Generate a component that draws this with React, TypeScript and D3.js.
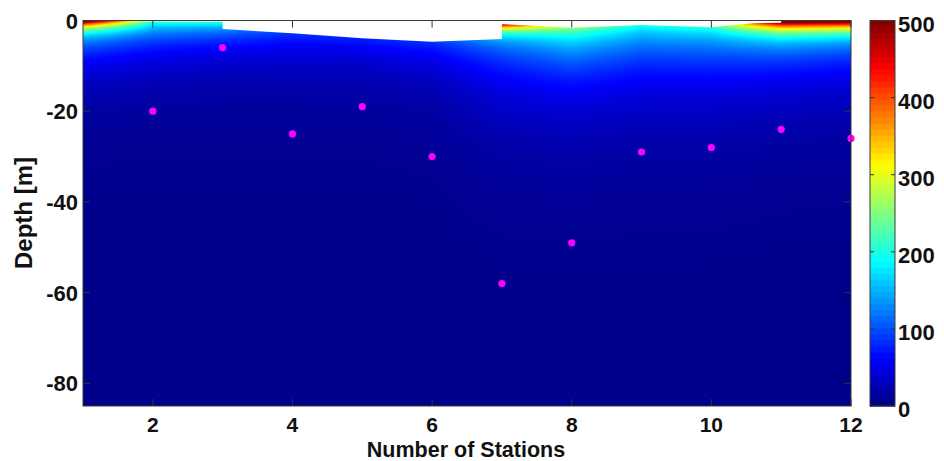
import React, { useMemo } from "react";
import * as d3 from "d3";

// ---- data ----
const stations = [1, 2, 3, 4, 5, 6, 7, 8, 9, 10, 11, 12];
// thin surface film: concentration and e-folding depth [m]
const filmConc = [350, 30, 60, 0, 0, 0, 560, 110, 30, 70, 360, 350];
const filmDecay = [1.3, 1.2, 1.2, 1.2, 1.2, 1.2, 1.3, 1.3, 1.2, 1.3, 1.6, 1.6];
// upper layer
const upperConc = [200, 150, 130, 90, 100, 120, 120, 190, 135, 150, 190, 180];
const upperDecay = [5.5, 5, 4.5, 5, 5, 5.5, 8.5, 8.5, 8.5, 8, 7, 6.5];
// mid layer
const midConc = [40, 40, 40, 40, 40, 45, 70, 70, 65, 65, 60, 55];
const midDecay = [12, 12, 12, 12, 12, 13, 15, 15, 15, 15, 14, 14];
const deepConc = 5;

// water surface line (top of the sampled section)
const surfaceLineX = [1, 2, 3, 3, 4, 5, 6, 7, 7, 8, 9, 10, 10.6, 11, 11, 12];
const surfaceLineDepth = [0, 0.2, 0.3, 1.9, 2.8, 3.9, 4.7, 4.1, 0.8, 1.6, 1.0, 1.5, 0.6, 0.5, 0, 0];

// sampling points (magenta dots)
const sampleStations = [2, 3, 4, 5, 6, 7, 8, 9, 10, 11, 12];
const sampleDepths = [-20, -6, -25, -19, -30, -58, -49, -29, -28, -24, -26];

const xTicks = [2, 4, 6, 8, 10, 12];
const yTicks = [0, -20, -40, -60, -80];
const cbTicks = [0, 100, 200, 300, 400, 500];

// ---- layout ----
const W = 944;
const H = 461;
const L = 83;
const R = 851;
const T = 20.5;
const B = 406;
const CBL = 870;
const CBR = 895;
const FONT = "'Liberation Sans', Arial, Helvetica, sans-serif";

function jet(t: number): [number, number, number] {
  const c = (v: number) => Math.max(0, Math.min(1, v));
  return [c(1.5 - Math.abs(4 * t - 3)), c(1.5 - Math.abs(4 * t - 2)), c(1.5 - Math.abs(4 * t - 1))];
}
function jetCss(t: number) {
  const [r, g, b] = jet(t);
  return `rgb(${Math.round(r * 255)},${Math.round(g * 255)},${Math.round(b * 255)})`;
}

function profile(i: number, d: number) {
  return (
    deepConc +
    filmConc[i] * Math.exp(-d / filmDecay[i]) +
    upperConc[i] * Math.exp(-d / upperDecay[i]) +
    midConc[i] * Math.exp(-d / midDecay[i])
  );
}

export default function App() {
  const x = d3.scaleLinear().domain([1, 12]).range([L, R]);
  const y = d3.scaleLinear().domain([0, -85]).range([T, B]);
  const c = d3.scaleLinear().domain([0, 500]).range([B, T]);

  const img = useMemo(() => {
    const w = Math.round(R - L);
    const h = Math.round(B - T);
    const cv = document.createElement("canvas");
    cv.width = w;
    cv.height = h;
    const ctx = cv.getContext("2d")!;
    const id = ctx.createImageData(w, h);
    for (let px = 0; px < w; px++) {
      const sx = x.invert(L + px + 0.5);
      let i0 = Math.floor(sx - 1);
      i0 = Math.max(0, Math.min(stations.length - 2, i0));
      const f = (sx - stations[i0]) / (stations[i0 + 1] - stations[i0]);
      for (let py = 0; py < h; py++) {
        const d = -y.invert(T + py + 0.5);
        const v = profile(i0, d) * (1 - f) + profile(i0 + 1, d) * f;
        const [r, g, b] = jet(Math.max(0, Math.min(1, v / 500)));
        const k = (py * w + px) * 4;
        id.data[k] = r * 255;
        id.data[k + 1] = g * 255;
        id.data[k + 2] = b * 255;
        id.data[k + 3] = 255;
      }
    }
    ctx.putImageData(id, 0, 0);
    return cv.toDataURL();
  }, []);

  const surfPts: [number, number][] = surfaceLineX.map((sx, i) => [x(sx), y(-surfaceLineDepth[i])]);
  const whitePath = d3.line()([[x(1), T - 1], ...surfPts, [x(12), T - 1]]) + "Z";

  const nSteps = 64;
  const steps = d3.range(nSteps);

  return (
    <svg width={W} height={H} style={{ position: "absolute", left: 0, top: 0, background: "#fff" }} fontFamily={FONT}>
      <image href={img} x={L} y={T} width={R - L} height={B - T} preserveAspectRatio="none" />
      <path d={whitePath} fill="#fff" />
      {sampleStations.map((s, i) => (
        <circle key={i} cx={x(s)} cy={y(sampleDepths[i])} r={3.6} fill="#ff00ff" />
      ))}
      {/* frame */}
      <rect x={L} y={T} width={R - L} height={B - T} fill="none" stroke="#3a3a3a" strokeWidth={1} />
      {xTicks.map((t) => (
        <g key={t}>
          <line x1={x(t)} x2={x(t)} y1={B} y2={B - 7} stroke="#333" />
          <line x1={x(t)} x2={x(t)} y1={T} y2={T + 7} stroke="#333" />
          <text x={x(t)} y={432} textAnchor="middle" fontSize={21} fontWeight="bold" fill="#111">
            {t}
          </text>
        </g>
      ))}
      {yTicks.map((t) => (
        <g key={t}>
          <line x1={L} x2={L + 7} y1={y(t)} y2={y(t)} stroke="#333" />
          <line x1={R} x2={R - 7} y1={y(t)} y2={y(t)} stroke="#333" />
          <text x={78} y={y(t) + 8} textAnchor="end" fontSize={22} fontWeight="bold" fill="#111">
            {t}
          </text>
        </g>
      ))}
      <text x={466} y={456.5} textAnchor="middle" fontSize={21.5} fontWeight="bold" fill="#111">
        Number of Stations
      </text>
      <text
        transform={`translate(32,213) rotate(-90)`}
        textAnchor="middle"
        fontSize={24}
        fontWeight="bold"
        fill="#111"
      >
        Depth [m]
      </text>
      {/* colorbar */}
      {steps.map((k) => (
        <rect
          key={k}
          x={CBL}
          width={CBR - CBL}
          y={c(((k + 1) * 500) / nSteps)}
          height={c(0) - c(500 / nSteps) + 0.6}
          fill={jetCss((k + 0.5) / nSteps)}
        />
      ))}
      <rect x={CBL} y={T} width={CBR - CBL} height={B - T} fill="none" stroke="#3a3a3a" />
      {cbTicks.map((t) => (
        <g key={t}>
          <line x1={CBL} x2={CBL + 4} y1={c(t)} y2={c(t)} stroke="#333" />
          <line x1={CBR} x2={CBR - 4} y1={c(t)} y2={c(t)} stroke="#333" />
          <text x={898} y={c(t) + 11} fontSize={22} fontWeight="bold" fill="#111">
            {t}
          </text>
        </g>
      ))}
    </svg>
  );
}
